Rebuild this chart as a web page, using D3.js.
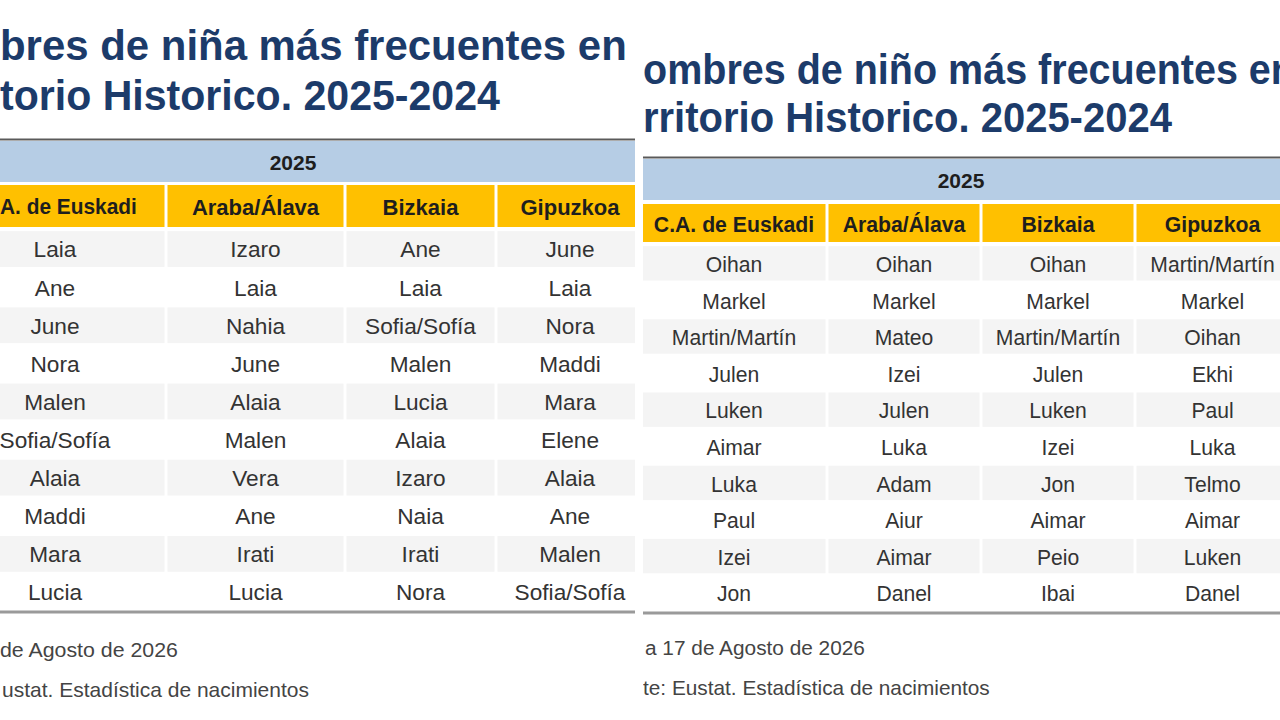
<!DOCTYPE html>
<html>
<head>
<meta charset="utf-8">
<script src="https://cdn.jsdelivr.net/npm/d3@7"></script>
<style>
  html, body { margin: 0; padding: 0; background: #ffffff; }
  svg { display: block; }
</style>
</head>
<body>
<svg id="chart" width="1280" height="720"></svg>
<script>
// ---------------- DATA ----------------
const regions = ["C.A. de Euskadi", "Araba/Álava", "Bizkaia", "Gipuzkoa"];
const yearLabel = "2025";
const ranks = [1, 2, 3, 4, 5, 6, 7, 8, 9, 10];

const girlsEuskadi  = ["Laia", "Ane", "June", "Nora", "Malen", "Sofia/Sofía", "Alaia", "Maddi", "Mara", "Lucia"];
const girlsAraba    = ["Izaro", "Laia", "Nahia", "June", "Alaia", "Malen", "Vera", "Ane", "Irati", "Lucia"];
const girlsBizkaia  = ["Ane", "Laia", "Sofia/Sofía", "Malen", "Lucia", "Alaia", "Izaro", "Naia", "Irati", "Nora"];
const girlsGipuzkoa = ["June", "Laia", "Nora", "Maddi", "Mara", "Elene", "Alaia", "Ane", "Malen", "Sofia/Sofía"];

const boysEuskadi  = ["Oihan", "Markel", "Martin/Martín", "Julen", "Luken", "Aimar", "Luka", "Paul", "Izei", "Jon"];
const boysAraba    = ["Oihan", "Markel", "Mateo", "Izei", "Julen", "Luka", "Adam", "Aiur", "Aimar", "Danel"];
const boysBizkaia  = ["Oihan", "Markel", "Martin/Martín", "Julen", "Luken", "Izei", "Jon", "Aimar", "Peio", "Ibai"];
const boysGipuzkoa = ["Martin/Martín", "Markel", "Oihan", "Ekhi", "Paul", "Luka", "Telmo", "Aimar", "Luken", "Danel"];

// Text as visible in each (cropped) panel of the reference
const girlsHeaderFirst = "A. de Euskadi";
const girlsTitle   = ["bres de niña más frecuentes en", "torio Historico. 2025-2024"];
const boysTitle    = ["ombres de niño más frecuentes en", "rritorio Historico. 2025-2024"];
const girlsFooter  = ["de Agosto de 2026", "ustat. Estadística de nacimientos"];
const boysFooter   = ["a 17 de Agosto de 2026", "te: Eustat. Estadística de nacimientos"];

// ---------------- LAYOUT ----------------
const FONT = "'Liberation Sans', Arial, Helvetica, sans-serif";
const C = {
  title: "#1c3b6a", text: "#333333", head: "#1e1e1e",
  blue: "#b6cde5", yellow: "#ffc000", stripe: "#f4f4f4",
  topLine: "#5a5a5a", bottomLine: "#9a9a9a", foot: "#444444"
};

const panels = [
  {
    clip: [0, 635],
    cols: [girlsEuskadi, girlsAraba, girlsBizkaia, girlsGipuzkoa],
    headers: [girlsHeaderFirst, regions[1], regions[2], regions[3]],
    firstHeaderFit: [0, 137],
    edges: [-56, 166, 345, 496, 644],
    yearX: 293,
    title: girlsTitle,
    t1: { span: [0, 627], chars: null, y: 60 },
    t2: { span: [0, 500], chars: null, y: 110 },
    footer: girlsFooter,
    f1: { span: [0, 178], y: 657 }, f2: { span: [2, 309], y: 697 },
    headSx: 1.0, bodySx: 1.03,
    topLine: 139.5, blue: [141, 182], yellow: [185, 227], body: [230, 611], bottom: 612
  },
  {
    clip: [643, 1280],
    cols: [boysEuskadi, boysAraba, boysBizkaia, boysGipuzkoa],
    headers: regions,
    firstHeaderFit: null,
    edges: [641, 827, 981, 1135, 1290],
    yearX: 961,
    title: boysTitle,
    t1: { span: [643, 1238], chars: "ombres de niño más frecuentes".length, y: 84 },
    t2: { span: [643, 1172], chars: null, y: 132 },
    footer: boysFooter,
    f1: { span: [645, 865], y: 655 }, f2: { span: [643, 990], y: 695 },
    headSx: 0.965, bodySx: 0.96,
    topLine: 157.5, blue: [159, 200], yellow: [204, 242], body: [245, 611], bottom: 613
  }
];

const svg = d3.select("#chart");
const defs = svg.append("defs");

function scaledText(g, x, y, str, opts) {
  const sx = opts.sx || 1;
  return g.append("g")
    .attr("transform", `translate(${x},${y}) scale(${sx},1)`)
    .append("text")
    .attr("x", 0).attr("y", 0)
    .attr("text-anchor", opts.anchor || "middle")
    .attr("dominant-baseline", opts.baseline || "auto")
    .attr("font-family", FONT)
    .attr("font-size", opts.size)
    .attr("font-weight", opts.weight || "normal")
    .attr("fill", opts.fill)
    .text(str);
}

// place text so that its first `chars` characters span [xa, xb]
function fitText(g, str, xa, xb, y, chars, opts) {
  const t = scaledText(g, 0, y, str, Object.assign({}, opts, { anchor: "start", sx: 1 }));
  const n = chars == null ? str.length : chars;
  const w = t.node().getSubStringLength(0, n);
  const sx = (xb - xa) / w;
  d3.select(t.node().parentNode).attr("transform", `translate(${xa},${y}) scale(${sx},1)`);
  return t;
}

panels.forEach((p, pi) => {
  const id = "clip" + pi;
  defs.append("clipPath").attr("id", id)
    .append("rect").attr("x", p.clip[0]).attr("y", 0)
    .attr("width", p.clip[1] - p.clip[0]).attr("height", 720);
  const g = svg.append("g").attr("clip-path", `url(#${id})`);

  const xL = d3.scaleOrdinal().domain(regions).range(p.edges.slice(0, 4));
  const xR = d3.scaleOrdinal().domain(regions).range(p.edges.slice(1, 5));
  const xC = r => (xL(r) + xR(r)) / 2;
  const y = d3.scaleBand().domain(ranks).range(p.body).paddingInner(0.06).paddingOuter(0.03);
  const yRow = d3.scaleBand().domain(ranks).range(p.body);

  // ---- title ----
  const tOpts = { size: 42, weight: "bold", fill: C.title };
  fitText(g, p.title[0], p.t1.span[0], p.t1.span[1], p.t1.y, p.t1.chars, tOpts);
  fitText(g, p.title[1], p.t2.span[0], p.t2.span[1], p.t2.y, p.t2.chars, tOpts);

  const x0 = p.edges[0], x1 = p.edges[4];

  // ---- top line + year band ----
  g.append("rect").attr("x", x0).attr("y", p.blue[0]).attr("width", x1 - x0)
    .attr("height", p.blue[1] - p.blue[0]).attr("fill", C.blue);
  g.append("line").attr("x1", x0).attr("x2", x1)
    .attr("y1", p.topLine).attr("y2", p.topLine)
    .attr("stroke", C.topLine).attr("stroke-width", 2);
  scaledText(g, p.yearX, (p.blue[0] + p.blue[1]) / 2 + 1, yearLabel,
    { size: 21, weight: "bold", fill: C.head, sx: 1.0, baseline: "central" });

  // ---- region header cells ----
  g.selectAll("rect.hdr").data(regions).join("rect").attr("class", "hdr")
    .attr("x", d => xL(d) + 1.5).attr("width", d => xR(d) - xL(d) - 3)
    .attr("y", p.yellow[0]).attr("height", p.yellow[1] - p.yellow[0])
    .attr("fill", C.yellow);
  const hy = (p.yellow[0] + p.yellow[1]) / 2 + 1;
  const hOpts = { size: 22, weight: "bold", fill: C.head, baseline: "central" };
  regions.forEach((r, ci) => {
    if (ci === 0 && p.firstHeaderFit) {
      fitText(g, p.headers[0], p.firstHeaderFit[0], p.firstHeaderFit[1], hy, null, hOpts);
    } else {
      scaledText(g, xC(r), hy, p.headers[ci], Object.assign({ sx: p.headSx }, hOpts));
    }
  });

  // ---- body ----
  regions.forEach((r, ci) => {
    const names = p.cols[ci];
    g.selectAll(null).data(ranks.filter(k => k % 2 === 1)).join("rect")
      .attr("x", xL(r) + 1.5).attr("width", xR(r) - xL(r) - 3)
      .attr("y", d => y(d)).attr("height", y.bandwidth())
      .attr("fill", C.stripe);
    names.forEach((nm, i) => {
      const k = ranks[i];
      scaledText(g, xC(r), yRow(k) + yRow.bandwidth() / 2 + 1, nm,
        { size: 22, fill: C.text, sx: p.bodySx, baseline: "central" });
    });
  });

  // ---- bottom line ----
  g.append("line").attr("x1", x0).attr("x2", x1)
    .attr("y1", p.bottom).attr("y2", p.bottom)
    .attr("stroke", C.bottomLine).attr("stroke-width", 3);

  // ---- footer ----
  const fOpts = { size: 21, fill: C.foot };
  fitText(g, p.footer[0], p.f1.span[0], p.f1.span[1], p.f1.y, null, fOpts);
  fitText(g, p.footer[1], p.f2.span[0], p.f2.span[1], p.f2.y, null, fOpts);
});
</script>
</body>
</html>
